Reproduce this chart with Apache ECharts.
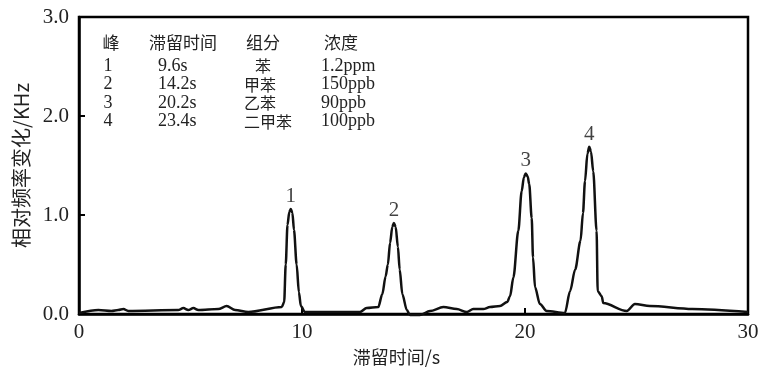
<!DOCTYPE html>
<html><head><meta charset="utf-8">
<script src="https://cdn.jsdelivr.net/npm/echarts@6/dist/echarts.min.js"></script>
<style>html,body{margin:0;padding:0;background:#fff}#c{width:765px;height:373px}</style>
</head><body><div id="c"></div>
<script>
// retention time (s)
var retentionTime = [0,0.87,1.46,1.76,1.99,2.21,4.45,4.68,4.9,5.13,5.35,6.25,6.62,7.0,7.59,
  9.09,9.2,9.27,9.35,9.43,9.5,9.57,9.64,9.76,9.86,9.95,10.13,12.6,12.9,13.42,
  13.6,13.75,13.85,13.95,14.05,14.12,14.2,14.3,14.38,14.5,14.7,14.84,15.29,15.74,16.34,16.94,17.39,17.68,18.13,18.43,18.88,
  19.2,19.33,19.48,19.7,19.85,19.95,20.03,20.12,20.19,20.3,20.36,20.45,20.67,20.97,
  21.79,22.02,22.25,22.49,22.6,22.69,22.8,22.88,22.96,23.06,23.21,23.26,23.44,23.51,24.56,24.93,25.6,27.5,30];
// relative frequency change (KHz)
var freqShift = [0.01,0.04,0.03,0.04,0.05,0.03,0.04,0.06,0.04,0.06,0.04,0.05,0.08,0.04,0.02,
  0.07,0.12,0.5,0.9,1.03,1.06,1.02,0.85,0.5,0.22,0.08,0.02,0.02,0.06,0.07,
  0.2,0.38,0.5,0.72,0.88,0.92,0.88,0.68,0.45,0.2,0.04,-0.01,-0.01,0.03,0.07,0.05,0.02,0.05,0.05,0.07,0.08,
  0.12,0.18,0.37,0.84,1.24,1.38,1.42,1.39,1.31,0.97,0.57,0.27,0.10,0.03,
  0.01,0.23,0.45,0.74,1.02,1.34,1.62,1.69,1.64,1.44,0.84,0.23,0.18,0.11,0.03,0.10,0.08,0.05,0.02];
// peak labels
var peakNames = ['1','2','3','4'];
var peakTimes = [9.5,14.12,20.03,22.88];
var peakHeights = [1.06,0.92,1.42,1.69];
// table
var tableHeader = ['峰','滞留时间','组分','浓度'];
var tablePeak = ['1','2','3','4'];
var tableTime = ['9.6s','14.2s','20.2s','23.4s'];
var tableComp = ['苯','甲苯','乙苯','二甲苯'];
var tableConc = ['1.2ppm','150ppb','90ppb','100ppb'];

var serif = '"Liberation Serif","Noto Sans CJK SC",serif';
var cjk = '"Noto Sans CJK SC"';
var chart = echarts.init(document.getElementById('c'));
var lineData = retentionTime.map(function(t,i){return [t,freqShift[i]];});
var peakData = peakTimes.map(function(t,i){return {value:[t,peakHeights[i]],label:{formatter:peakNames[i]}};});

// table layout
var headerX = [111, 183, 263, 341];
var rowY = [43, 66, 84.5, 103, 121.5];
var compX = [263, 244, 244, 244];
var numFont = '18px "Liberation Serif"';
var graphics = [];
tableHeader.forEach(function(h,c){
  graphics.push({type:'text',x:headerX[c],y:rowY[0],style:{text:h,font:'17px '+cjk,fill:'#222',align:'center',verticalAlign:'middle'}});
});
tablePeak.forEach(function(s,r){
  graphics.push({type:'text',x:108,y:rowY[r+1],style:{text:s,font:numFont,fill:'#222',align:'center',verticalAlign:'middle'}});
});
tableTime.forEach(function(s,r){
  graphics.push({type:'text',x:158,y:rowY[r+1],style:{text:s,font:numFont,fill:'#222',align:'left',verticalAlign:'middle'}});
});
tableComp.forEach(function(s,r){
  graphics.push({type:'text',x:compX[r],y:rowY[r+1],style:{text:s,font:'16px '+cjk,fill:'#222',align:(r==0?'center':'left'),verticalAlign:'middle'}});
});
tableConc.forEach(function(s,r){
  graphics.push({type:'text',x:321,y:rowY[r+1],style:{text:s,font:numFont,fill:'#222',align:'left',verticalAlign:'middle'}});
});

chart.setOption({
  animation:false,
  grid:{left:79,right:17,top:17,bottom:59,show:true,borderColor:'#000',borderWidth:2.5,backgroundColor:'transparent'},
  xAxis:{type:'value',min:0,max:30,interval:10,
    name:'滞留时间/s',nameLocation:'middle',nameGap:30,
    nameTextStyle:{fontFamily:cjk,fontSize:18,color:'#222',padding:[0,34,0,0]},
    axisLine:{lineStyle:{color:'#000',width:2.5}},
    axisTick:{inside:true,length:6,lineStyle:{color:'#000',width:2}},
    axisLabel:{fontFamily:serif,fontSize:21,color:'#222',margin:8},
    splitLine:{show:false}},
  yAxis:{type:'value',min:0,max:3,interval:1,
    name:'相对频率变化/KHz',nameLocation:'middle',nameGap:47,
    nameTextStyle:{fontFamily:cjk,fontSize:20,color:'#222'},
    axisLine:{show:true,lineStyle:{color:'#000',width:2.5}},
    axisTick:{show:true,inside:true,length:6,lineStyle:{color:'#000',width:2}},
    axisLabel:{fontFamily:serif,fontSize:21,color:'#222',margin:10,formatter:function(v){return v.toFixed(1);}},
    splitLine:{show:false}},
  graphic:graphics,
  series:[
    {type:'line',data:lineData,showSymbol:false,smooth:0.3,smoothMonotone:'x',clip:false,
     lineStyle:{color:'#111',width:2.5}},
    {type:'scatter',data:peakData,symbolSize:0,
     label:{show:true,position:'top',distance:2,fontFamily:serif,fontSize:21,color:'#111'}}
  ]
});
</script></body></html>
